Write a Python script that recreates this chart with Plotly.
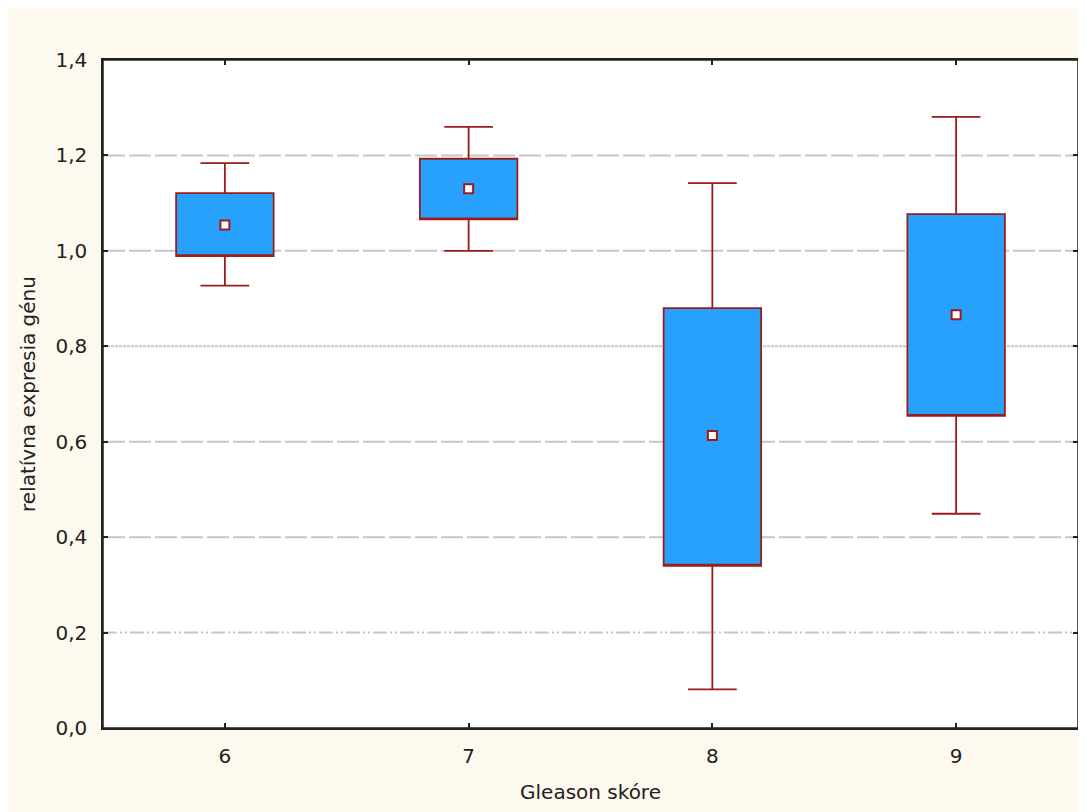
import plotly.graph_objects as go

# ---- data ----
categories = ["6", "7", "8", "9"]
upper_whisker = [1.184, 1.260, 1.142, 1.281]
box_top = [1.121, 1.193, 0.880, 1.077]
box_bottom = [0.989, 1.066, 0.340, 0.654]
lower_whisker = [0.927, 1.000, 0.081, 0.449]
center_value = [1.054, 1.130, 0.613, 0.866]

y_ticks = [0.0, 0.2, 0.4, 0.6, 0.8, 1.0, 1.2, 1.4]
grid_values = [0.2, 0.4, 0.6, 0.8, 1.0, 1.2]
grid_dashes = ["14px,3px,2px,3px,2px,3px", "22px,4px", "22px,4px", "3px,1px", "22px,4px", "22px,4px"]

x_title = "Gleason skóre"
y_title = "relatívna expresia génu"

# ---- styles ----
BOX_FILL = "#27a1fb"
DARK_RED = "#9a1c1c"
CREAM = "#fdf9ee"
FONT = dict(family="DejaVu Sans", size=20, color="#222222")

fig = go.Figure()

fig.add_trace(go.Box(
    x=categories,
    q1=box_bottom,
    median=box_bottom,
    q3=box_top,
    lowerfence=lower_whisker,
    upperfence=upper_whisker,
    fillcolor=BOX_FILL,
    line=dict(color=DARK_RED, width=1.8),
    width=0.4,
    whiskerwidth=0.5,
    boxpoints=False,
    showlegend=False,
    hoverinfo="skip",
))

fig.add_trace(go.Scatter(
    x=categories,
    y=center_value,
    mode="markers",
    marker=dict(symbol="square", size=9, color="white",
                line=dict(color=DARK_RED, width=2)),
    showlegend=False,
    hoverinfo="skip",
))

shapes = []
for gv, gd in zip(grid_values, grid_dashes):
    shapes.append(dict(type="line", xref="paper", yref="y", x0=0, x1=1, y0=gv, y1=gv,
                       line=dict(color="#c6c6c6", width=2, dash=gd), layer="below"))

# page is offset 8px by the browser body margin; figure fills the rest
W, H = 1078, 804
L, R, T, B = 95, 6, 52, 84
pw, ph = W - L - R, H - T - B
# thin white strip at the very top
shapes.append(dict(type="rect", xref="paper", yref="paper",
                   x0=-L / pw, x1=(W - L) / pw, y0=(H - T - 2) / ph, y1=(H - T) / ph,
                   fillcolor="white", line=dict(width=0), layer="below"))
# plot frame
shapes.append(dict(type="rect", xref="paper", yref="paper", x0=0, x1=1, y0=0, y1=1,
                   line=dict(color="#222222", width=1.5), fillcolor="rgba(0,0,0,0)",
                   layer="above"))

fig.update_layout(
    width=W, height=H,
    margin=dict(l=L, r=R, t=T, b=B, pad=0),
    paper_bgcolor=CREAM,
    plot_bgcolor="white",
    separators=", ",
    font=FONT,
    shapes=shapes,
    xaxis=dict(
        type="category",
        range=[-0.5, 3.5],
        showgrid=False,
        zeroline=False,
        showline=True, linecolor="#222222", linewidth=1.5, mirror="ticks",
        ticks="inside", ticklen=5, tickcolor="#222222", tickwidth=1.5,
        tickfont=FONT,
        ticklabelstandoff=9,
        title=dict(text=x_title, font=FONT, standoff=18),
    ),
    yaxis=dict(
        range=[0, 1.4],
        tickvals=y_ticks,
        tickformat=".1f",
        showgrid=False,
        zeroline=False,
        showline=True, linecolor="#222222", linewidth=1.5, mirror="ticks",
        ticks="inside", ticklen=5, tickcolor="#222222", tickwidth=1.5,
        tickfont=FONT,
        ticklabelstandoff=10,
        title=dict(text=y_title, font=FONT, standoff=14),
    ),
)

fig.write_html("out.html")
